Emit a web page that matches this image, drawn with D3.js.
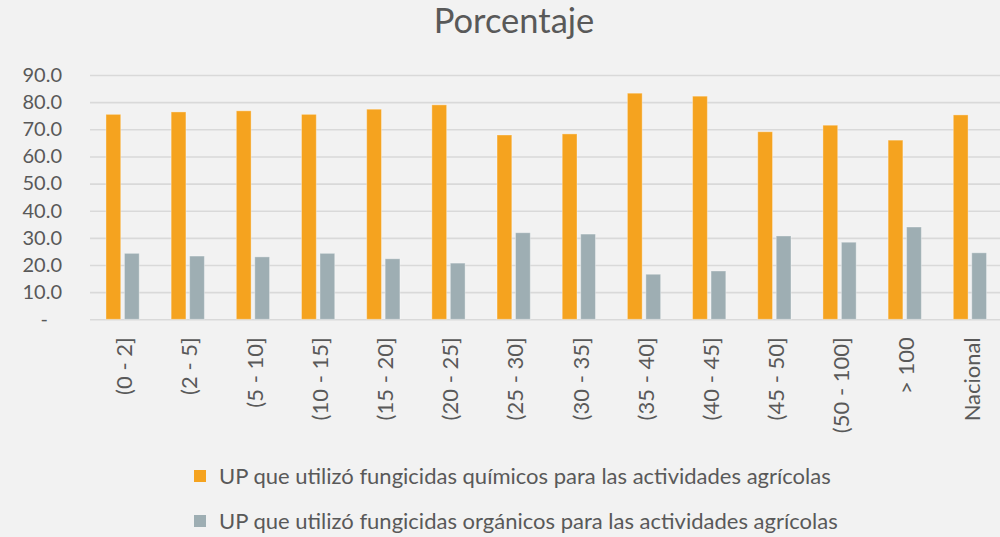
<!DOCTYPE html>
<html>
<head>
<meta charset="utf-8">
<script src="https://cdn.jsdelivr.net/npm/d3@7/dist/d3.min.js"></script>
<style>
  html, body { margin: 0; padding: 0; background: #f2f2f2; }
  svg { display: block; font-family: Lato, "Open Sans", sans-serif; }
</style>
</head>
<body>
<svg id="chart" width="1000" height="537"></svg>
<script>
// Rangos de superficie (ha) y porcentajes de UP por tipo de fungicida
const categories = ["(0 - 2]", "(2 - 5]", "(5 - 10]", "(10 - 15]", "(15 - 20]", "(20 - 25]",
  "(25 - 30]", "(30 - 35]", "(35 - 40]", "(40 - 45]", "(45 - 50]", "(50 - 100]", "> 100", "Nacional"];
const quimicos = [75.5, 76.4, 76.8, 75.5, 77.4, 79.0, 67.9, 68.3, 83.3, 82.2, 69.1, 71.5, 66.0, 75.3];
const organicos = [24.3, 23.3, 23.0, 24.3, 22.3, 20.7, 31.9, 31.4, 16.6, 17.8, 30.7, 28.4, 34.0, 24.5];
const seriesNames = [
  "UP que utilizó fungicidas químicos para las actividades agrícolas",
  "UP que utilizó fungicidas orgánicos para las actividades agrícolas"
];
const seriesColors = ["#F5A31F", "#9EAEB3"];
const yTicks = [0, 10, 20, 30, 40, 50, 60, 70, 80, 90];
const titleText = "Porcentaje";

(function () {
const svg = d3.select("#chart");
const textColor = "#595959";
const plotLeft = 90, plotRight = 1002.5, plotTop = 75, plotBottom = 319.3;

const x = d3.scaleBand().domain(categories).range([plotLeft, plotRight])
  .paddingInner(0.49).paddingOuter(0.245);
const xs = d3.scaleBand().domain([0, 1]).range([0, x.bandwidth()]).paddingInner(0.2);
const y = d3.scaleLinear().domain([0, 90]).range([plotBottom, plotTop]);

// Título
svg.append("text")
  .attr("x", 514).attr("y", 33)
  .attr("text-anchor", "middle")
  .attr("fill", textColor)
  .style("font-size", "34.5px")
  .text(titleText);

// Eje Y con líneas de cuadrícula
const yAxis = svg.append("g")
  .attr("transform", `translate(${plotLeft},0)`)
  .call(d3.axisLeft(y).tickValues(yTicks)
    .tickSize(-(1000 - plotLeft))
    .tickPadding(28)
    .tickFormat(d => d === 0 ? "-" : d3.format(".1f")(d)));
yAxis.select(".domain").remove();
yAxis.selectAll(".tick line").attr("stroke", "#d9d9d9").attr("stroke-width", 1.6);
yAxis.selectAll(".tick text")
  .attr("fill", textColor)
  .style("font-size", "20px")
  .style("font-family", "Lato, sans-serif");
yAxis.selectAll(".tick text").filter(d => d === 0).attr("x", -42);

// Barras
const data = [quimicos, organicos];
const groups = svg.append("g").selectAll("g")
  .data(categories)
  .join("g")
  .attr("transform", d => `translate(${x(d)},0)`);

groups.selectAll("rect")
  .data((d, i) => data.map((s, k) => ({ k, v: s[i] })))
  .join("rect")
  .attr("x", d => xs(d.k))
  .attr("width", xs.bandwidth())
  .attr("y", d => y(d.v))
  .attr("height", d => y(0) - y(d.v))
  .attr("fill", d => seriesColors[d.k])
  .attr("stroke", "rgba(255,255,255,0.35)")
  .attr("stroke-width", 1);

// Etiquetas del eje X (verticales)
const xAxis = svg.append("g")
  .attr("transform", `translate(0,${plotBottom})`)
  .call(d3.axisBottom(x).tickSize(0).tickPadding(0));
xAxis.select(".domain").remove();
xAxis.selectAll(".tick text")
  .attr("fill", textColor)
  .style("font-size", "22px")
  .style("font-family", "Lato, sans-serif")
  .attr("text-anchor", "end")
  .attr("transform", "translate(2,18) rotate(-90)")
  .attr("x", 0).attr("y", 0).attr("dy", "0.35em");

// Leyenda
const legend = svg.append("g");
seriesNames.forEach((name, i) => {
  const cy = 476 + i * 45;
  legend.append("rect")
    .attr("x", 194).attr("y", cy - 6)
    .attr("width", 12).attr("height", 12)
    .attr("fill", seriesColors[i]);
  legend.append("text")
    .attr("x", 219).attr("y", cy)
    .attr("dy", "0.35em")
    .attr("fill", textColor)
    .style("font-size", "22px")
    .text(name);
});
})();
</script>
</body>
</html>
